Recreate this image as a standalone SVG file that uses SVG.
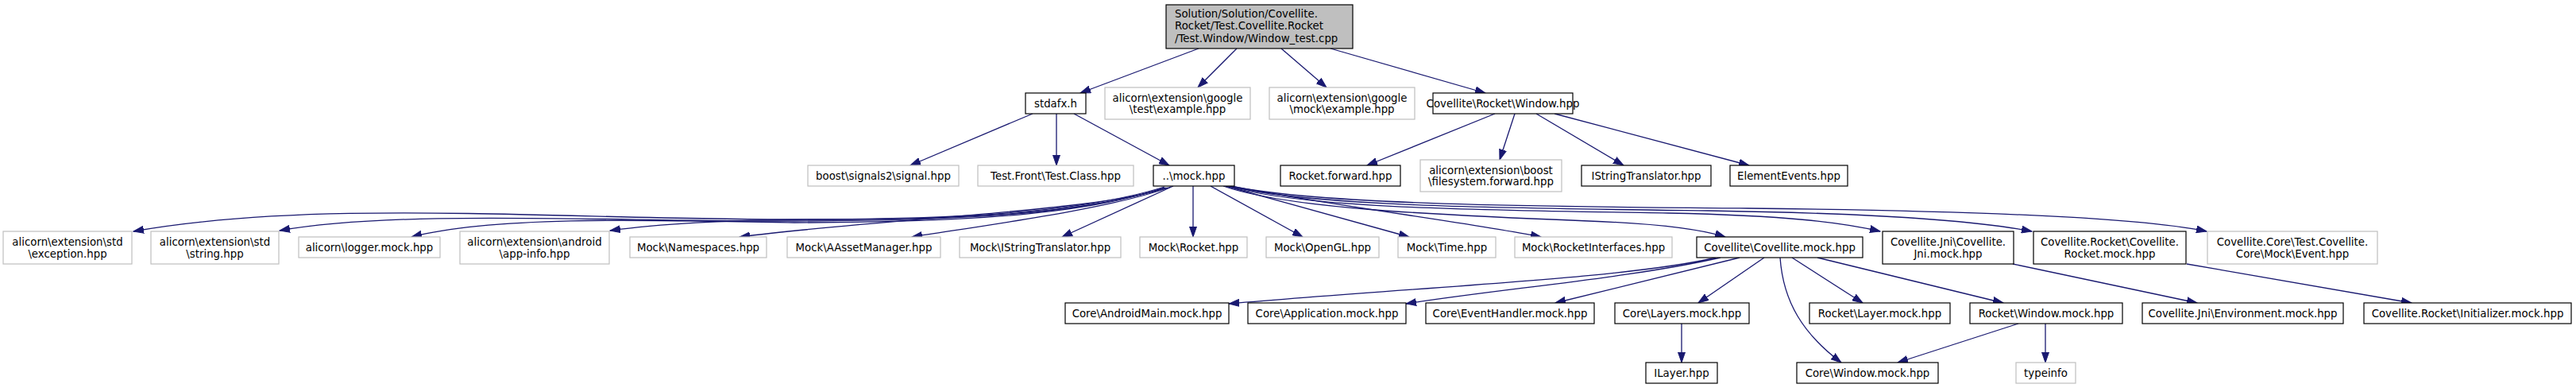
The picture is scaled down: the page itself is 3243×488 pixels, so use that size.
<svg xmlns="http://www.w3.org/2000/svg" width="3243" height="488" viewBox="0 0 3243 488">
<style>
rect{fill:#fff;stroke:#000;stroke-width:1.2}
.u rect{stroke:#bfbfbf}
.root rect{fill:#bfbfbf}
text{font-family:"DejaVu Sans","Liberation Sans",sans-serif;font-size:13.33px;fill:#000;text-anchor:middle}
.root text{text-anchor:start}
#edges path{fill:none;stroke:#191970;stroke-width:1.3;marker-end:url(#ah)}
</style>
<defs>
<marker id="ah" markerUnits="userSpaceOnUse" markerWidth="14" markerHeight="10" refX="13" refY="5" orient="auto">
<polygon points="0,0.5 13,5 0,9.5" fill="#191970" stroke="#191970" stroke-width="1"/>
</marker>
</defs>
<rect x="0" y="0" width="3243" height="488" style="fill:#fff;stroke:none"/>
<g id="edges">
<path d="M1509,61 L1360,117"/>
<path d="M1557,61 L1508,110"/>
<path d="M1613,61 L1670,110"/>
<path d="M1675,61 L1870,117"/>
<path d="M1300,143 L1146,208"/>
<path d="M1330,143 L1330,208"/>
<path d="M1352,143 L1472,208"/>
<path d="M1882,143 L1721,208"/>
<path d="M1907,143 L1888,201"/>
<path d="M1934,143 L2044,208"/>
<path d="M1957,143 L2202,208"/>
<path d="M1466,235 C1380,262 1250,276 1000,276 C700,276 400,250 168,291"/>
<path d="M1466,236 C1380,264 1250,278 1000,278 C750,278 500,264 352,290"/>
<path d="M1466,236 C1380,265 1250,280 1000,280 C800,276 620,272 518,298"/>
<path d="M1468,236 C1380,264 1250,276 1050,276 C930,276 840,280 768,290"/>
<path d="M1470,236 C1380,266 1120,274 931,298"/>
<path d="M1474,235 C1400,262 1250,282 1148,298"/>
<path d="M1477,234 L1337,298"/>
<path d="M1502,234 L1502,298"/>
<path d="M1524,234 L1640,298"/>
<path d="M1543,234 L1774,298"/>
<path d="M1548,234 C1700,262 1850,280 1940,298"/>
<path d="M1540,234 C1620,262 1800,270 2000,278 C2080,281 2140,288 2172,298"/>
<path d="M1545,234 C1640,262 1850,264 2100,268 C2250,271 2320,280 2367,291"/>
<path d="M1548,234 C1650,260 1900,262 2150,265 C2350,268 2480,276 2558,291"/>
<path d="M1550,234 C1660,258 1950,260 2200,262 C2500,265 2700,275 2778,291"/>
<path d="M2160,324 C2050,350 1800,360 1547,382"/>
<path d="M2166,324 C2050,350 1900,362 1770,382"/>
<path d="M2190,324 L1958,381"/>
<path d="M2221,324 L2138,381"/>
<path d="M2241,324 C2245,380 2270,420 2318,456"/>
<path d="M2256,324 L2345,381"/>
<path d="M2288,324 L2522,381"/>
<path d="M2117,407 L2117,456"/>
<path d="M2541,407 L2389,456"/>
<path d="M2575,407 L2575,456"/>
<path d="M2534,332 L2766,381"/>
<path d="M2753,332 L3036,381"/>
</g>
<g id="n0" class="root"><rect x="1468" y="6" width="235" height="55"/><text x="1479" y="21.5">Solution/Solution/Covellite.</text><text x="1479" y="37">Rocket/Test.Covellite.Rocket</text><text x="1479" y="52.5">/Test.Window/Window_test.cpp</text></g>
<g id="n1"><rect x="1291" y="117" width="76" height="26"/><text x="1329" y="134.7">stdafx.h</text></g>
<g id="n2" class="u"><rect x="1391" y="110" width="183" height="40"/><text x="1482.5" y="128">alicorn\extension\google</text><text x="1482.5" y="142">\test\example.hpp</text></g>
<g id="n3" class="u"><rect x="1598" y="110" width="183" height="40"/><text x="1689.5" y="128">alicorn\extension\google</text><text x="1689.5" y="142">\mock\example.hpp</text></g>
<g id="n4"><rect x="1804" y="117" width="176" height="26"/><text x="1892" y="134.7">Covellite\Rocket\Window.hpp</text></g>
<g id="n5" class="u"><rect x="1017" y="208" width="190" height="26"/><text x="1112" y="225.7">boost\signals2\signal.hpp</text></g>
<g id="n6" class="u"><rect x="1231" y="208" width="196" height="26"/><text x="1329" y="225.7">Test.Front\Test.Class.hpp</text></g>
<g id="n7"><rect x="1452" y="208" width="102" height="26"/><text x="1503" y="225.7">..\mock.hpp</text></g>
<g id="n8"><rect x="1612" y="208" width="151" height="26"/><text x="1687.5" y="225.7">Rocket.forward.hpp</text></g>
<g id="n9" class="u"><rect x="1788" y="201" width="178" height="40"/><text x="1877" y="219">alicorn\extension\boost</text><text x="1877" y="233">\filesystem.forward.hpp</text></g>
<g id="n10"><rect x="1991" y="208" width="163" height="26"/><text x="2072.5" y="225.7">IStringTranslator.hpp</text></g>
<g id="n11"><rect x="2178" y="208" width="148" height="26"/><text x="2252" y="225.7">ElementEvents.hpp</text></g>
<g id="n12" class="u"><rect x="4" y="291" width="162" height="41"/><text x="85" y="309">alicorn\extension\std</text><text x="85" y="324">\exception.hpp</text></g>
<g id="n13" class="u"><rect x="190" y="291" width="161" height="41"/><text x="270.5" y="309">alicorn\extension\std</text><text x="270.5" y="324">\string.hpp</text></g>
<g id="n14" class="u"><rect x="376" y="298" width="178" height="26"/><text x="465" y="315.7">alicorn\logger.mock.hpp</text></g>
<g id="n15" class="u"><rect x="579" y="291" width="188" height="41"/><text x="673" y="309">alicorn\extension\android</text><text x="673" y="324">\app-info.hpp</text></g>
<g id="n16" class="u"><rect x="793" y="298" width="172" height="26"/><text x="879" y="315.7">Mock\Namespaces.hpp</text></g>
<g id="n17" class="u"><rect x="991" y="298" width="193" height="26"/><text x="1087.5" y="315.7">Mock\AAssetManager.hpp</text></g>
<g id="n18" class="u"><rect x="1208" y="298" width="203" height="26"/><text x="1309.5" y="315.7">Mock\IStringTranslator.hpp</text></g>
<g id="n19" class="u"><rect x="1435" y="298" width="135" height="26"/><text x="1502.5" y="315.7">Mock\Rocket.hpp</text></g>
<g id="n20" class="u"><rect x="1594" y="298" width="142" height="26"/><text x="1665" y="315.7">Mock\OpenGL.hpp</text></g>
<g id="n21" class="u"><rect x="1760" y="298" width="123" height="26"/><text x="1821.5" y="315.7">Mock\Time.hpp</text></g>
<g id="n22" class="u"><rect x="1907" y="298" width="198" height="26"/><text x="2006" y="315.7">Mock\RocketInterfaces.hpp</text></g>
<g id="n23"><rect x="2136" y="298" width="209" height="26"/><text x="2240.5" y="315.7">Covellite\Covellite.mock.hpp</text></g>
<g id="n24"><rect x="2370" y="291" width="165" height="41"/><text x="2452.5" y="309">Covellite.Jni\Covellite.</text><text x="2452.5" y="324">Jni.mock.hpp</text></g>
<g id="n25"><rect x="2560" y="291" width="192" height="41"/><text x="2656" y="309">Covellite.Rocket\Covellite.</text><text x="2656" y="324">Rocket.mock.hpp</text></g>
<g id="n26" class="u"><rect x="2779" y="291" width="214" height="41"/><text x="2886" y="309">Covellite.Core\Test.Covellite.</text><text x="2886" y="324">Core\Mock\Event.hpp</text></g>
<g id="n27"><rect x="1341" y="381" width="206" height="26"/><text x="1444" y="398.7">Core\AndroidMain.mock.hpp</text></g>
<g id="n28"><rect x="1571" y="381" width="199" height="26"/><text x="1670.5" y="398.7">Core\Application.mock.hpp</text></g>
<g id="n29"><rect x="1795" y="381" width="212" height="26"/><text x="1901" y="398.7">Core\EventHandler.mock.hpp</text></g>
<g id="n30"><rect x="2033" y="381" width="169" height="26"/><text x="2117.5" y="398.7">Core\Layers.mock.hpp</text></g>
<g id="n31"><rect x="2278" y="381" width="177" height="26"/><text x="2366.5" y="398.7">Rocket\Layer.mock.hpp</text></g>
<g id="n32"><rect x="2480" y="381" width="192" height="26"/><text x="2576" y="398.7">Rocket\Window.mock.hpp</text></g>
<g id="n33"><rect x="2697" y="381" width="253" height="26"/><text x="2823.5" y="398.7">Covellite.Jni\Environment.mock.hpp</text></g>
<g id="n34"><rect x="2976" y="381" width="261" height="26"/><text x="3106.5" y="398.7">Covellite.Rocket\Initializer.mock.hpp</text></g>
<g id="n35"><rect x="2072" y="456" width="90" height="26"/><text x="2117" y="473.7">ILayer.hpp</text></g>
<g id="n36"><rect x="2262" y="456" width="178" height="26"/><text x="2351" y="473.7">Core\Window.mock.hpp</text></g>
<g id="n37" class="u"><rect x="2538" y="456" width="75" height="26"/><text x="2575.5" y="473.7">typeinfo</text></g>
</svg>
